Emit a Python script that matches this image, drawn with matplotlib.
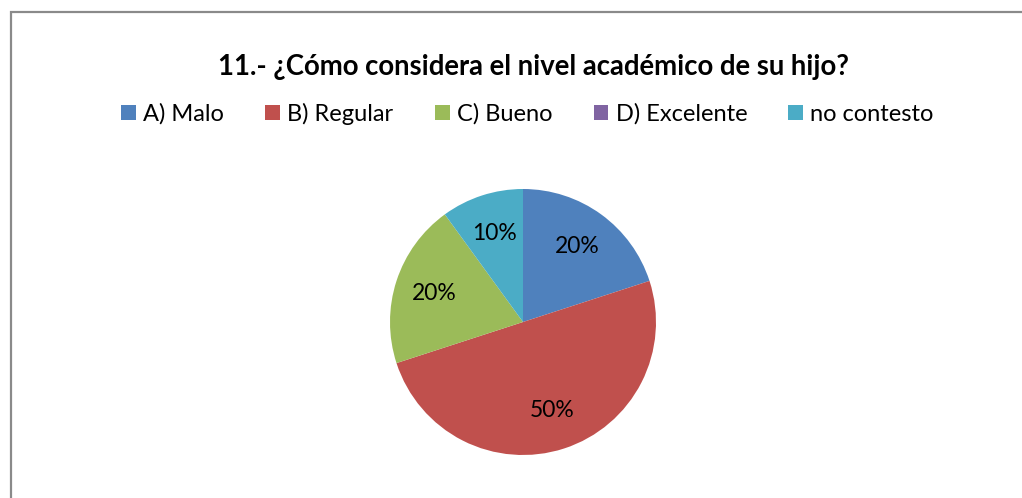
import matplotlib
matplotlib.use("Agg")
import matplotlib.pyplot as plt
from matplotlib.patches import Rectangle

plt.rcParams['font.family'] = ['Lato', 'DejaVu Sans']

categories = ["A) Malo", "B) Regular", "C) Bueno", "D) Excelente", "no contesto"]
values = [20, 50, 20, 0, 10]
colors = ["#4F81BD", "#C0504D", "#9BBB59", "#8064A2", "#4BACC6"]
title = "11.- ¿Cómo considera el nivel académico de su hijo?"

W, H = 1022, 498
fig = plt.figure(figsize=(W / 100, H / 100), dpi=100)
fig.patch.set_facecolor("white")

# outer frame (extends past right/bottom edge as in reference)
fig.add_artist(Rectangle((10.5 / W, -0.2), 1.5, 1 - 12.5 / H + 0.2,
                         transform=fig.transFigure, fill=False,
                         ec="#8a8a8a", lw=1.6))

cx, cy, r = 523, 322, 133
ax = fig.add_axes([(cx - r) / W, 1 - (cy + r) / H, 2 * r / W, 2 * r / H])


def fmt(p):
    return f"{p:.0f}%" if p > 0.5 else ""


wedges, texts, autotexts = ax.pie(
    values, colors=colors, startangle=90, counterclock=False,
    autopct=fmt, pctdistance=0.70, radius=1.0,
    wedgeprops=dict(linewidth=0),
    textprops=dict(fontsize=16.5, color="black"))
ax.set_xlim(-1, 1)
ax.set_ylim(-1, 1)
ax.set_aspect("equal")

fig.text(533 / W, 1 - 67 / H, title, ha="center", va="center",
         fontsize=19.8, fontweight="bold", color="black")

fig.legend(wedges, categories, ncol=5, loc="center",
           bbox_to_anchor=(527.5 / W, 1 - 114 / H), frameon=False,
           fontsize=17, handlelength=0.63, handleheight=0.63,
           handletextpad=0.3, columnspacing=1.75, borderpad=0)

fig.savefig("out.png", dpi=100, facecolor="white")
